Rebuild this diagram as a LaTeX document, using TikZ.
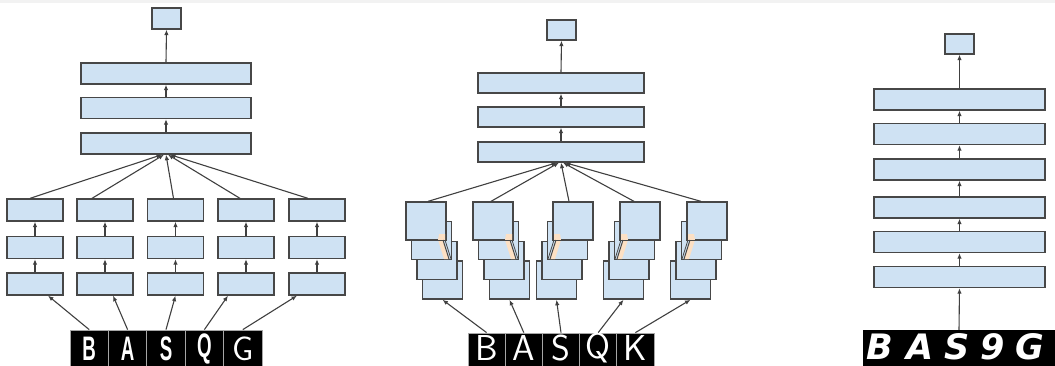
\documentclass[tikz,border=0pt]{standalone}
\usepackage{fontspec}
\usepackage{graphicx}
\usetikzlibrary{arrows.meta,calc}
\newfontfamily\blockfont{DejaVu Sans}
\newfontfamily\narrowfont{Liberation Sans}[FakeStretch=0.55]
\definecolor{boxblue}{HTML}{CFE2F3}
\definecolor{edgec}{HTML}{474747}
\definecolor{arrc}{HTML}{404040}
\definecolor{peach}{HTML}{FCE0C4}
\begin{document}
\begin{tikzpicture}[x=1pt,y=-1pt,
  blk/.style={draw=edgec, fill=boxblue, line width=1.3pt, inner sep=0pt},
  arr/.style={draw=arrc, line width=1.1pt, -{Latex[length=5.5pt,width=4.5pt]}},
  cell/.style={fill=black, draw=gray!70, line width=0.8pt, inner sep=0pt},
  lett/.style={inner sep=0pt, text=white},
  narrowL/.style={lett, font=\narrowfont\bfseries\fontsize{34}{34}\selectfont},
  handL/.style={lett, font=\sffamily\fontsize{36}{36}\selectfont},
  blockL/.style={lett, font=\blockfont\bfseries\itshape\fontsize{35}{35}\selectfont},
]
\useasboundingbox (0,0) rectangle (1055,365);
\fill[gray!10] (0,0) rectangle (1055,3);

% ---------------- left panel ----------------
\node[blk, minimum width=29pt, minimum height=21pt] (Ltop) at (166.5,18.5) {};
\foreach \n/\y in {Lw1/73.5, Lw2/108, Lw3/143.5}
  \node[blk, minimum width=170pt, minimum height=21pt] (\n) at (166,\y) {};
\draw[arr] (Lw1.north) -- (Ltop.south);
\draw[arr] (Lw2.north) -- (Lw1.south);
\draw[arr] (Lw3.north) -- (Lw2.south);

\foreach \i/\cx in {1/35,2/105,3/175.5,4/246,5/317}{
  \node[blk, minimum width=56pt, minimum height=22pt] (La\i) at (\cx,284) {};
  \node[blk, minimum width=56pt, minimum height=22pt] (Lb\i) at (\cx,247.5) {};
  \node[blk, minimum width=56pt, minimum height=22pt] (Lc\i) at (\cx,210) {};
  \draw[arr] (La\i.north) -- (Lb\i.south);
  \draw[arr] (Lb\i.north) -- (Lc\i.south);
}
\foreach \i/\dx/\ex in {1/-5/-4, 2/-13/-2, 3/-2/0, 4/-6/2, 5/-9/4}
  \draw[arr] ([xshift=\dx pt]Lc\i.north) -- ([xshift=\ex pt]Lw3.south);

\foreach \i/\cx in {1/89.2, 2/127.6, 3/166, 4/204.4, 5/242.8}
  \node[cell, minimum width=38.4pt, minimum height=37pt] (LS\i) at (\cx,348.5) {};
\foreach \i/\L in {1/B, 2/A, 3/S, 4/Q}
  \node[narrowL] (LT\i) at ([xshift=0pt]LS\i.center) {\L};
\node[lett, font=\sffamily\fontsize{34}{34}\selectfont] (LT5) at (LS5.center) {G};
\foreach \i/\dx in {1/13,2/8,3/0,4/-18,5/-20}
  \draw[arr] (LS\i.north) -- ([xshift=\dx pt]La\i.south);

% ---------------- middle panel ----------------
\node[blk, minimum width=29pt, minimum height=20pt] (Mtop) at (561.5,30) {};
\foreach \n/\y in {Mw1/83, Mw2/117, Mw3/152}
  \node[blk, minimum width=166pt, minimum height=20pt] (\n) at (561,\y) {};
\draw[arr] (Mw1.north) -- (Mtop.south);
\draw[arr] (Mw2.north) -- (Mw1.south);
\draw[arr] (Mw3.north) -- (Mw2.south);

\foreach \i/\xo/\s in {1/406/1, 2/473/1, 3/553/-1, 4/620/-1, 5/687/-1}{
  \foreach \k in {3,2,1,0}{
    \node[blk, minimum width=40pt, minimum height=38pt] (S\i\k) at ({\xo+\s*\k*5.5+20},{202+\k*19.7+19}) {};
  }
  \pgfmathsetmacro\C{\xo+20+\s*20}
  \fill[peach] ({\C-\s*1},234) -- ({\C-\s*7},234) -- ({\C-\s*8},240) -- ({\C-\s*2},259)
     -- ({\C+\s*3},259) -- ({\C-\s*3},240) -- ({\C-\s*1},240) -- cycle;
  \draw[edgec, line width=1pt] ({\C-\s*3},240) -- ({\C+\s*3},259);
  \draw[edgec, line width=0.8pt] ({\C-\s*1},240) -- ({\C+\s*5},259);
  \draw[edgec, line width=1.3pt] (S\i0.south west) -- (S\i0.south east);
}

\foreach \i/\cx/\L in {1/486.6/B, 2/523.8/A, 3/561/S, 4/598.2/Q, 5/635.4/K}{
  \node[cell, minimum width=37.2pt, minimum height=34pt] (MS\i) at (\cx,350) {};
  \node[handL] (MT\i) at (\cx,348) {\L};
}
\foreach \i in {1,...,5}
  \draw[arr] (MS\i.north) -- (S\i3.south);
\foreach \i/\dx/\ex in {1/2/-4, 2/-2/-2, 3/-4/0, 4/-6/2, 5/-6/4}
  \draw[arr] ([xshift=\dx pt]S\i0.north) -- ([xshift=\ex pt]Mw3.south);

% ---------------- right panel ----------------
\node[blk, minimum width=29pt, minimum height=20pt] (Rtop) at (959.5,44) {};
\foreach \n/\y in {Rw1/99.5, Rw2/134, Rw3/169.5, Rw4/207.5, Rw5/242, Rw6/277}
  \node[blk, minimum width=171pt, minimum height=21pt] (\n) at (959.5,\y) {};
\draw[arr] (Rw1.north) -- (Rtop.south);
\foreach \a/\b in {Rw2/Rw1, Rw3/Rw2, Rw4/Rw3, Rw5/Rw4, Rw6/Rw5}
  \draw[arr] (\a.north) -- (\b.south);
\node[fill=black, inner sep=0pt, minimum width=192pt, minimum height=37pt] (RS) at (959,348.5) {};
\foreach \x/\L [count=\j] in {880/B, 920/A, 957/S, 993/9, 1030/G}
  \node[blockL] (RT\j) at (\x,347) {\L};
\draw[arr] (RS.north) -- (Rw6.south);
\end{tikzpicture}
\end{document}
